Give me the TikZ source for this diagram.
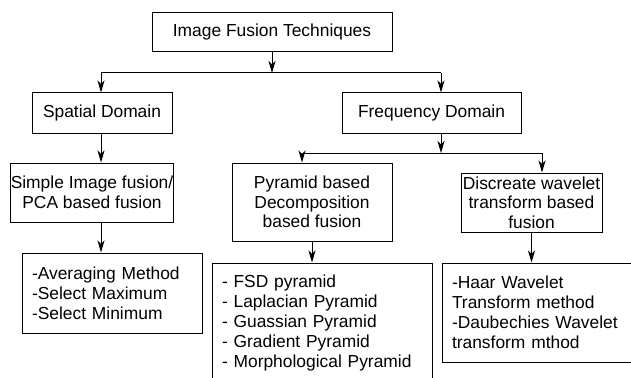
\documentclass[tikz,border=0pt]{standalone}
\usepackage{fontspec}
\setmainfont{Liberation Sans}
\usetikzlibrary{arrows.meta}
\begin{document}
\begin{tikzpicture}[x=1pt,y=-1pt,
  box/.style={draw, line width=1pt, inner sep=0pt, align=center,
    font=\fontsize{17.4pt}{19.5pt}\selectfont},
  listbox/.style={box, align=left, inner xsep=10pt,
    font=\fontsize{17.4pt}{20pt}\selectfont},
  conn/.style={line width=1pt},
  arr/.style={conn, -{Stealth[length=12pt,width=7pt,inset=3.5pt]}}]
\useasboundingbox (0,0) rectangle (631,377);
\clip (0,0) rectangle (631,377);
% boxes
\node[box, minimum width=240pt, minimum height=39pt] (top) at (272,32.5) {Image Fusion Techniques};
\node[box, minimum width=140pt, minimum height=40pt] (sp) at (102,113) {Spatial Domain};
\node[box, minimum width=179pt, minimum height=40pt] (fr) at (431.5,113) {Frequency Domain};
\node[box, minimum width=160pt, minimum height=59pt] (si) at (92,192.5) {Simple Image fusion/\\PCA based fusion};
\node[box, minimum width=160pt, minimum height=78pt] (py) at (312,202) {Pyramid based\\Decomposition\\based fusion};
\node[box, minimum width=141pt, minimum height=59pt] (dw) at (531.5,202.5) {Discreate wavelet\\transform based\\fusion};
\node[listbox, text width=160pt, minimum height=80pt] (av) at (112,293) {-Averaging Method\\-Select Maximum\\-Select Minimum};
\node[listbox, text width=200pt, minimum height=120pt] (fsd) at (322,323) {- FSD pyramid\\- Laplacian Pyramid\\- Guassian Pyramid\\- Gradient Pyramid\\- Morphological Pyramid};
\node[listbox, text width=171pt, minimum height=99pt] (hw) at (537.5,312.5) {-Haar Wavelet\\Transform method\\-Daubechies Wavelet\\transform mthod};
% bus points
\coordinate (b1) at (101,73);
\coordinate (b2) at (441,73);
\coordinate (c1) at (302,153);
\coordinate (c2) at (542,153);
% connectors
\draw[arr] (top.south) -- (top.south |- b1);
\draw[conn] (b1) -- (b2);
\draw[arr] (b1) -- (b1 |- sp.north);
\draw[arr] (b2) -- (b2 |- fr.north);
\draw[arr] (sp.south -| b1) -- (si.north -| b1);
\draw[arr] (si.south -| b1) -- (av.north -| b1);
\draw[arr] (fr.south -| b2) -- (b2 |- c1);
\draw[conn] (c1) -- (c2);
\draw[arr] (c1) -- (c1 |- py.north);
\draw[arr] (c2) -- (c2 |- dw.north);
\draw[arr] (py.south) -- (fsd.north -| py.south);
\draw[arr] (dw.south) -- (hw.north -| dw.south);
\end{tikzpicture}
\end{document}
